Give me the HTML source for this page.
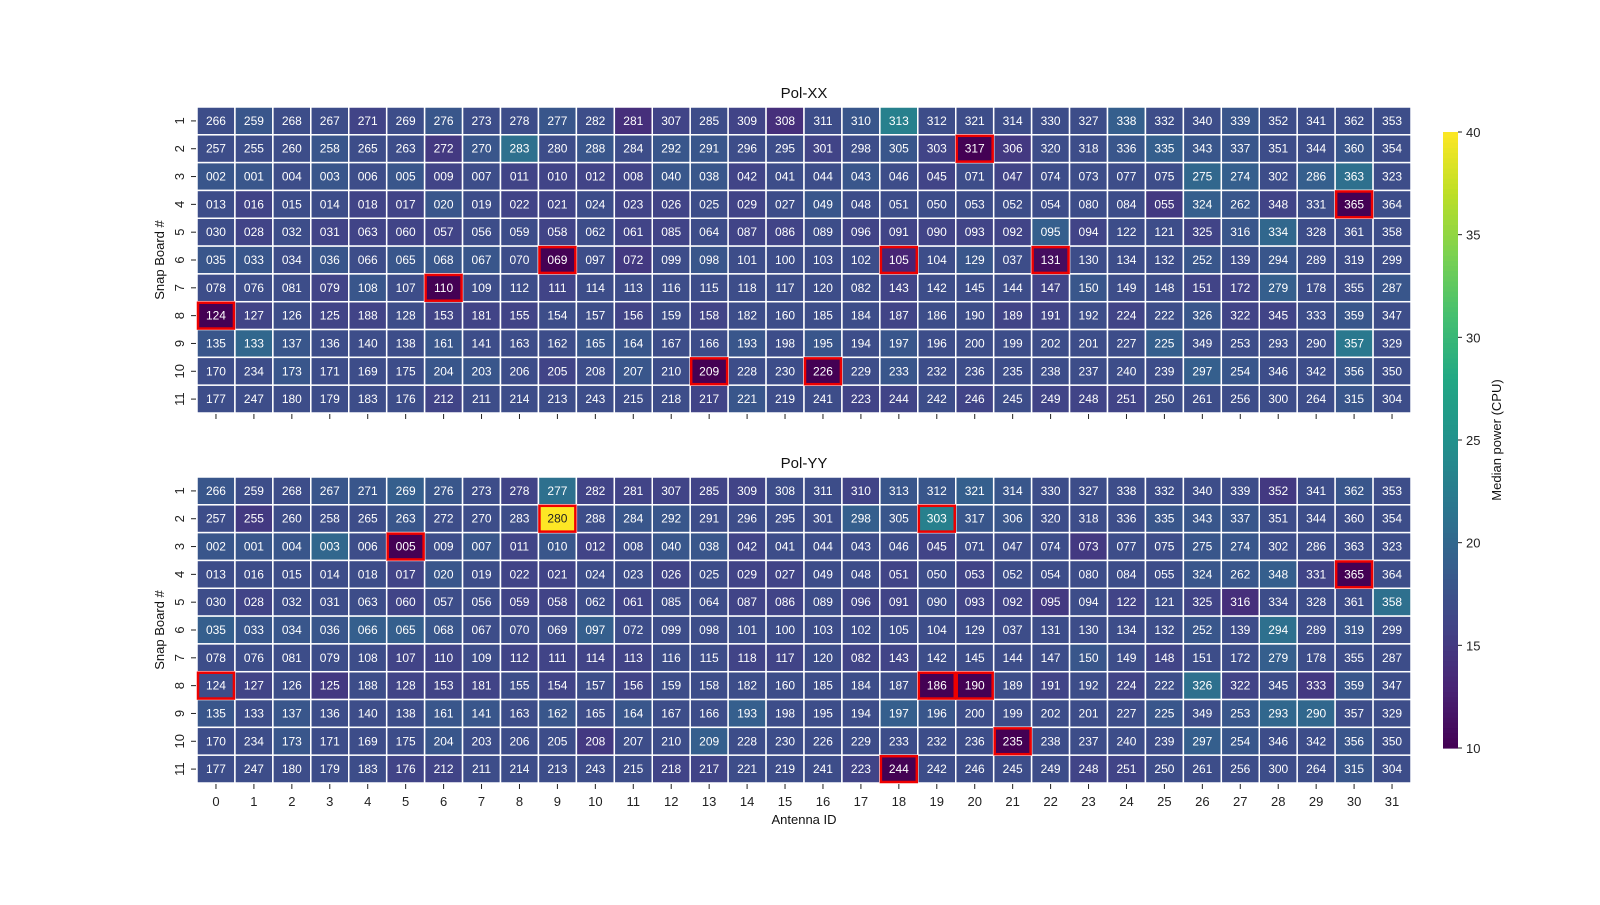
<!DOCTYPE html>
<html><head><meta charset="utf-8"><style>
body{margin:0;background:#fff;}
svg text{font-family:"Liberation Sans","DejaVu Sans",sans-serif;}
</style></head><body>
<svg id="fig" width="1600" height="900" viewBox="0 0 1600 900" xmlns="http://www.w3.org/2000/svg"></svg>
<script>
const antennaIds = [
"266 259 268 267 271 269 276 273 278 277 282 281 307 285 309 308 311 310 313 312 321 314 330 327 338 332 340 339 352 341 362 353",
"257 255 260 258 265 263 272 270 283 280 288 284 292 291 296 295 301 298 305 303 317 306 320 318 336 335 343 337 351 344 360 354",
"002 001 004 003 006 005 009 007 011 010 012 008 040 038 042 041 044 043 046 045 071 047 074 073 077 075 275 274 302 286 363 323",
"013 016 015 014 018 017 020 019 022 021 024 023 026 025 029 027 049 048 051 050 053 052 054 080 084 055 324 262 348 331 365 364",
"030 028 032 031 063 060 057 056 059 058 062 061 085 064 087 086 089 096 091 090 093 092 095 094 122 121 325 316 334 328 361 358",
"035 033 034 036 066 065 068 067 070 069 097 072 099 098 101 100 103 102 105 104 129 037 131 130 134 132 252 139 294 289 319 299",
"078 076 081 079 108 107 110 109 112 111 114 113 116 115 118 117 120 082 143 142 145 144 147 150 149 148 151 172 279 178 355 287",
"124 127 126 125 188 128 153 181 155 154 157 156 159 158 182 160 185 184 187 186 190 189 191 192 224 222 326 322 345 333 359 347",
"135 133 137 136 140 138 161 141 163 162 165 164 167 166 193 198 195 194 197 196 200 199 202 201 227 225 349 253 293 290 357 329",
"170 234 173 171 169 175 204 203 206 205 208 207 210 209 228 230 226 229 233 232 236 235 238 237 240 239 297 254 346 342 356 350",
"177 247 180 179 183 176 212 211 214 213 243 215 218 217 221 219 241 223 244 242 246 245 249 248 251 250 261 256 300 264 315 304"
];
const powerXX = [
[17,18,17,17,16,17,18,17,17,18,17,14,16,17,16,14,17,18,23,17,17,17,17,17,19,17,17,18,17,17,17,17],
[17,17,17,18,17,17,15,18,21,17,18,17,18,18,17,17,16,17,18,16,10,15,17,17,18,19,18,18,17,17,18,17],
[18,18,17,18,17,18,16,17,16,16,16,16,18,18,16,17,17,18,17,16,17,16,17,17,17,17,20,19,17,19,21,17],
[17,16,17,17,16,16,18,17,16,16,17,16,16,17,16,17,18,17,17,17,17,17,17,17,17,15,19,18,16,17,10,17],
[17,16,17,16,16,16,16,17,17,16,17,16,16,17,16,16,17,16,16,16,16,16,19,16,17,17,16,18,20,17,17,17],
[18,18,17,18,17,18,18,18,17,10,17,15,17,18,17,17,17,17,13,17,18,17,11,17,17,17,18,17,18,17,17,17],
[17,17,17,16,18,17,10,17,17,16,17,17,17,17,17,17,17,17,16,17,17,17,16,18,17,17,16,16,19,17,17,18],
[10,16,17,16,16,17,16,16,16,17,17,16,17,16,17,17,17,17,16,17,17,16,16,17,16,17,18,16,16,17,18,17],
[18,20,18,17,17,17,18,17,17,17,18,18,17,17,18,17,18,17,18,17,17,17,17,17,17,19,17,17,17,17,22,17],
[17,17,18,17,17,17,18,18,17,16,17,18,17,10,17,17,10,17,18,17,17,17,17,17,17,17,19,18,17,17,18,17],
[17,17,17,17,17,17,16,17,17,17,17,17,17,16,18,17,17,16,16,17,16,17,16,16,16,17,17,17,17,17,18,17]
];
const powerYY = [
[18,17,17,18,18,19,18,17,16,21,16,16,16,16,16,17,17,16,18,18,19,18,17,17,17,17,17,17,15,17,18,17],
[17,15,17,17,17,18,17,17,17,40,17,18,18,17,17,17,17,19,18,23,18,18,17,17,17,18,18,18,17,17,17,17],
[18,18,18,20,17,10,17,18,16,18,16,17,18,18,16,17,17,17,17,16,17,17,17,15,17,17,18,18,17,17,17,17],
[17,17,17,17,17,16,18,17,16,16,17,17,16,17,16,16,17,17,16,17,16,17,17,17,17,17,18,18,19,16,10,17],
[17,16,17,17,17,16,17,17,16,16,17,16,17,17,16,16,17,16,16,17,16,16,15,17,16,17,16,14,17,17,17,21],
[19,18,18,18,19,19,18,17,17,17,19,17,17,17,17,17,17,17,17,17,17,17,17,17,17,17,18,17,21,17,18,17],
[17,17,17,17,17,16,16,17,16,16,16,16,17,17,16,16,17,16,16,17,17,17,17,18,17,16,17,17,19,17,17,17],
[17,16,17,15,17,16,16,16,17,16,17,16,17,17,17,17,17,17,17,10,10,17,16,17,16,17,21,16,17,15,18,17],
[18,17,18,17,17,17,18,18,17,18,17,18,17,17,19,17,17,17,19,18,17,17,17,17,17,18,17,18,20,20,17,17],
[17,17,18,17,17,17,18,17,17,17,15,17,17,19,17,17,17,17,17,17,17,10,17,17,17,17,19,18,17,17,18,17],
[17,17,17,17,17,16,16,17,17,17,17,17,16,16,17,17,17,16,10,17,17,17,17,16,16,17,17,17,17,17,18,17]
];
const flaggedXX = [[1,20],[3,30],[5,9],[5,18],[5,22],[6,6],[7,0],[9,13],[9,16]];
const flaggedYY = [[1,9],[1,19],[2,5],[3,30],[7,0],[7,19],[7,20],[9,21],[10,18]];
const cbarTicks = [10,15,20,25,30,35,40];
const rowLabels = [1,2,3,4,5,6,7,8,9,10,11];

const VMIN=10,VMAX=40;
const VIR=["#440154","#482475","#414487","#355f8d","#2a788e","#21918c","#22a884","#44bf70","#7ad151","#bddf26","#fde725"];
function hex(h){return [1,3,5].map(i=>parseInt(h.substr(i,2),16));}
function viridis(v){let t=Math.max(0,Math.min(1,(v-VMIN)/(VMAX-VMIN)))*10;let i=Math.min(9,Math.floor(t));let f=t-i;
 const a=hex(VIR[i]),b=hex(VIR[i+1]);return "rgb("+a.map((x,k)=>Math.round(x+(b[k]-x)*f)).join(",")+")";}
const NS="http://www.w3.org/2000/svg";
const svg=document.getElementById('fig');
function el(tag,attrs,parent){const e=document.createElementNS(NS,tag);for(const k in attrs)e.setAttribute(k,attrs[k]);(parent||svg).appendChild(e);return e;}
function txt(s,attrs,parent){const e=el('text',attrs,parent);e.textContent=s;return e;}

const X0=197,X1=1411,CW=(X1-X0)/32;
function xScale(c){return X0+c*CW;}
function drawMap(top,vals,flags,title,name,showX){
 const RH=(306)/11;
 const g=el('g',{});
 
 
 const yScale=r=>top+r*RH;
 for(let r=0;r<11;r++){const ids=antennaIds[r].split(' ');
  for(let c=0;c<32;c++){
   const v=vals[r][c];
   const rc=el('rect',{x:xScale(c),y:yScale(r),width:CW,height:RH,fill:viridis(v),stroke:'#fff','stroke-width':1.5},g);
   
   
   const t=txt(ids[c],{x:xScale(c)+CW/2,y:yScale(r)+RH/2+4,'text-anchor':'middle','font-size':12,fill:v>30?'#222':'#fff'},g);
   
   
  }
  const yl=txt(rowLabels[r],{transform:`translate(${184},${yScale(r)+RH/2}) rotate(-90)`,'text-anchor':'middle','font-size':13,fill:'#222'},g);
  
  
  el('line',{x1:191,x2:196,y1:yScale(r)+RH/2,y2:yScale(r)+RH/2,stroke:'#222'},g);
 }
 flags.forEach(([r,c])=>{const f=el('rect',{x:xScale(c)+1,y:yScale(r)+1,width:CW-2,height:RH-2,fill:'none',stroke:'#e00','stroke-width':2.5},g);
  
  });
 for(let c=0;c<32;c++){
  el('line',{x1:xScale(c)+CW/2,x2:xScale(c)+CW/2,y1:top+306+1,y2:top+306+6,stroke:'#222'},g);
  if(showX){const xl=txt(c,{x:xScale(c)+CW/2,y:top+306+23,'text-anchor':'middle','font-size':13,fill:'#222'},g);
   
   }
 }
 const tt=txt(title,{x:(X0+X1)/2,y:top-9,'text-anchor':'middle','font-size':15,fill:'#111'},g);
 
 
 const ya=txt('Snap Board #',{transform:`translate(164,${top+153}) rotate(-90)`,'text-anchor':'middle','font-size':13,fill:'#111'},g);
 
 
}
drawMap(107,powerXX,flaggedXX,'Pol-XX','heatmap-pol-xx',false);
drawMap(477,powerYY,flaggedYY,'Pol-YY','heatmap-pol-yy',true);
const xa=txt('Antenna ID',{x:(X0+X1)/2,y:824,'text-anchor':'middle','font-size':13,fill:'#111'});



// colorbar
const CB={x:1443,w:15,y0:132,y1:748};
const cb=el('g',{});


const N=120;
for(let i=0;i<N;i++){const v=VMIN+(VMAX-VMIN)*(i+0.5)/N;const h=(CB.y1-CB.y0)/N;
 el('rect',{x:CB.x,y:CB.y1-(i+1)*h,width:CB.w,height:h+0.6,fill:viridis(v)},cb);}
const cbY=v=>CB.y1-(v-VMIN)/(VMAX-VMIN)*(CB.y1-CB.y0);
cbarTicks.forEach(v=>{el('line',{x1:CB.x+CB.w,x2:CB.x+CB.w+4,y1:cbY(v),y2:cbY(v),stroke:'#222'},cb);
 const t=txt(v,{x:CB.x+CB.w+8,y:cbY(v)+5,'font-size':13,fill:'#222'},cb);
 
 });
const cl=txt('Median power (CPU)',{transform:`translate(1501,440) rotate(-90)`,'text-anchor':'middle','font-size':13,fill:'#111'},cb);


</script>
</body></html>
